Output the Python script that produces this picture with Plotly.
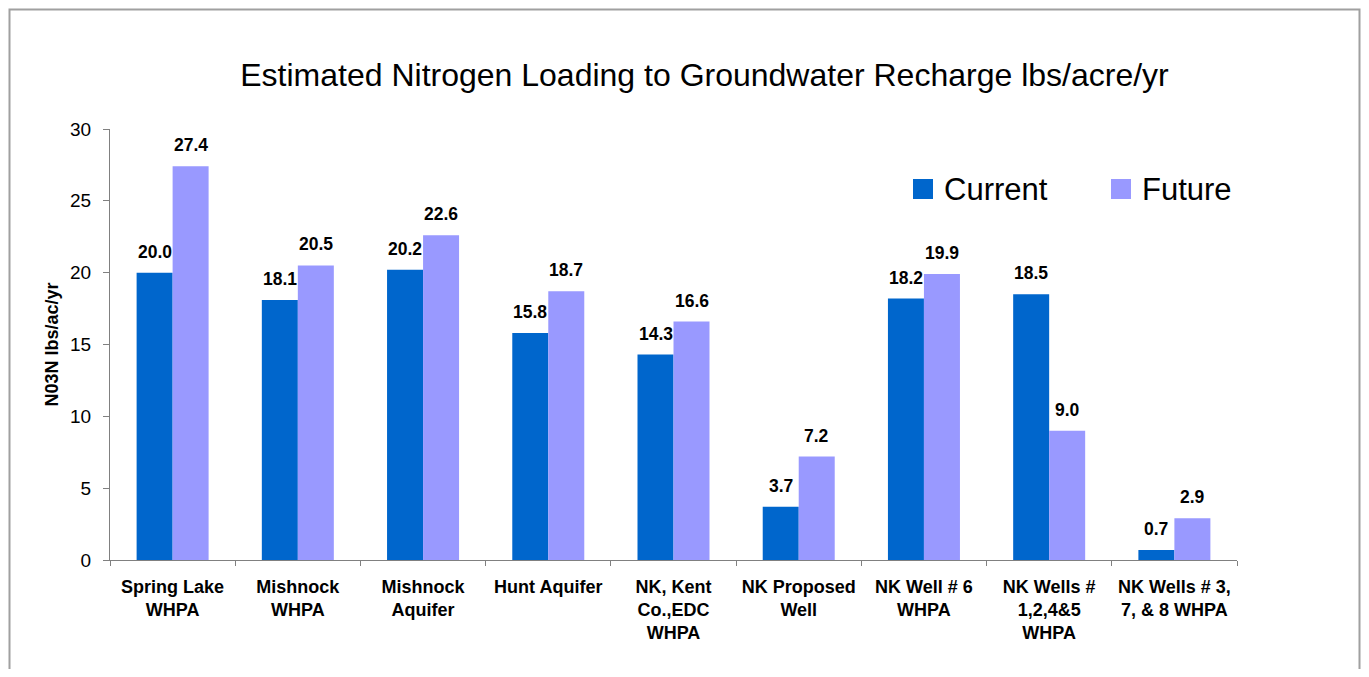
import plotly.graph_objects as go

categories = [
    "Spring Lake<br>WHPA",
    "Mishnock<br>WHPA",
    "Mishnock<br>Aquifer",
    "Hunt Aquifer",
    "NK, Kent<br>Co.,EDC<br>WHPA",
    "NK Proposed<br>Well",
    "NK Well # 6<br>WHPA",
    "NK Wells #<br>1,2,4&5<br>WHPA",
    "NK Wells # 3,<br>7, & 8 WHPA",
]
current = [20.0, 18.1, 20.2, 15.8, 14.3, 3.7, 18.2, 18.5, 0.7]
future = [27.4, 20.5, 22.6, 18.7, 16.6, 7.2, 19.9, 9.0, 2.9]
series_names = ["Current", "Future"]
series_colors = ["#0066CC", "#9999FF"]
title_text = "Estimated Nitrogen Loading to Groundwater Recharge lbs/acre/yr"
y_title = "N03N lbs/ac/yr"
y_ticks = [0, 5, 10, 15, 20, 25, 30]

OFF = 8  # page body margin
W, H = 1369 - 2 * OFF, 677 - 2 * OFF
ML, MT = 110 - OFF, 129 - OFF
MR = W - (1237 - OFF)
MB = H - (560 - OFF)
PW, PH = W - ML - MR, H - MT - MB
FONT = "Liberation Sans, Arial, sans-serif"
BARGAP = 0.425


def px_x(px):
    return (px - OFF - ML) / PW


def px_y(py):
    return (H - MB - (py - OFF)) / PH


fig = go.Figure()
for name, vals, col in zip(series_names, [current, future], series_colors):
    fig.add_trace(go.Bar(x=categories, y=vals, name=name, marker_color=col,
                         marker_line_width=0, showlegend=False))

# value labels
half = (1 - BARGAP) / 4
for k, vals in enumerate([current, future]):
    off = -half if k == 0 else half
    for i, v in enumerate(vals):
        fig.add_annotation(x=i + off, y=v, xref="x", yref="y", text=f"<b>{v:.1f}</b>",
                           showarrow=False, yanchor="bottom", yshift=9,
                           font=dict(family=FONT, size=17.5, color="#000000"))

# custom legend
leg = [(913, 942), (1111, 1140)]
for (sx, tx), name, col in zip(leg, series_names, series_colors):
    fig.add_shape(type="rect", xref="paper", yref="paper",
                  x0=px_x(sx), x1=px_x(sx + 20), y0=px_y(199), y1=px_y(179),
                  fillcolor=col, line_width=0)
    fig.add_annotation(xref="paper", yref="paper", x=px_x(tx), y=px_y(189),
                       xanchor="left", yanchor="middle", text=name, showarrow=False,
                       font=dict(family=FONT, size=31, color="#000000"))

# outer border (clipped to the figure area)
fig.add_shape(type="rect", xref="paper", yref="paper",
              x0=px_x(OFF + 1.5), x1=px_x(OFF + W - 1.5), y0=px_y(720), y1=px_y(OFF + 1.5),
              line=dict(color="#A0A0A0", width=2), fillcolor="rgba(0,0,0,0)", layer="below")

fig.update_layout(
    width=W, height=H,
    margin=dict(l=ML, r=MR, t=MT, b=MB, autoexpand=False),
    paper_bgcolor="white", plot_bgcolor="white",
    barmode="group", bargap=BARGAP, bargroupgap=0,
    title=dict(text=title_text, x=(704.5 - OFF) / W, xanchor="center", xref="container",
               y=1 - (75 - OFF) / H, yanchor="middle", yref="container",
               font=dict(family=FONT, size=32, color="#000000")),
    font=dict(family=FONT, color="#000000"),
)
fig.update_xaxes(
    type="category", tickson="boundaries", ticks="outside", ticklen=5,
    tickcolor="#808080", showline=True, linecolor="#808080", linewidth=1,
    showgrid=False, zeroline=False,
    tickfont=dict(family=FONT, size=18, color="#000000"),
    tickprefix="<b>", ticksuffix="</b>", ticklabelstandoff=10,
)
fig.update_yaxes(
    range=[0, 30], tickvals=y_ticks, ticks="outside", ticklen=6,
    tickcolor="#808080", showline=True, linecolor="#808080", linewidth=1,
    showgrid=False, zeroline=False,
    tickfont=dict(family=FONT, size=19, color="#000000"), ticklabelstandoff=8,
    title=dict(text=f"<b>{y_title}</b>", standoff=6,
               font=dict(family=FONT, size=18, color="#000000")),
)

fig.write_html("out.html")
